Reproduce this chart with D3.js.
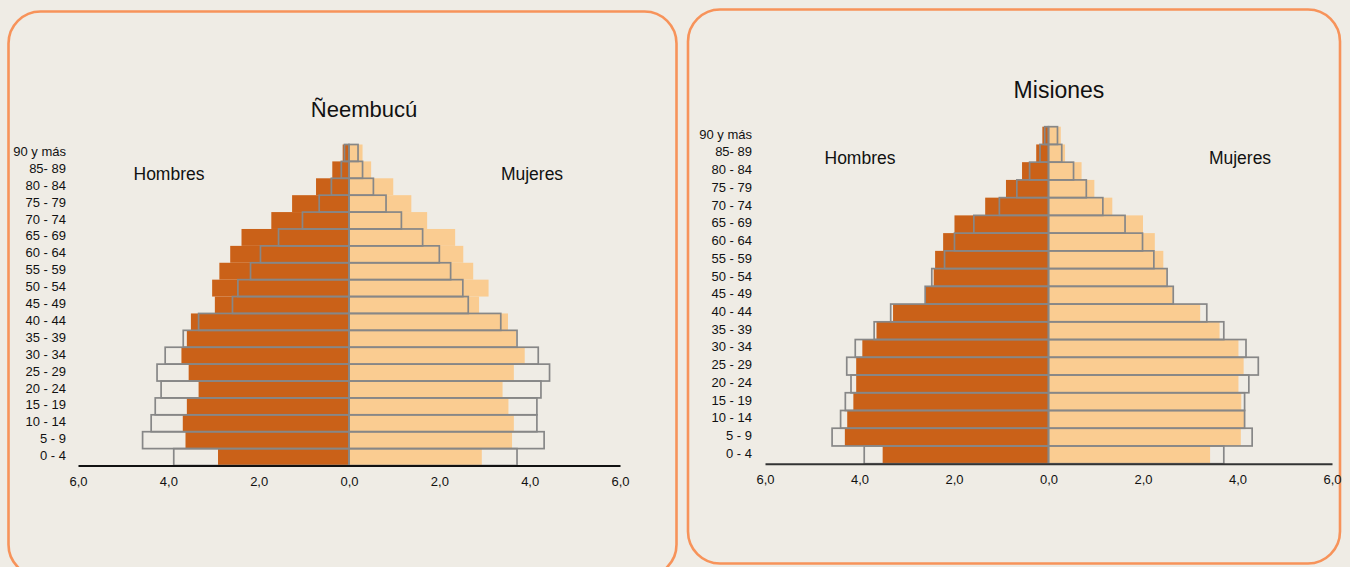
<!DOCTYPE html>
<html>
<head>
<meta charset="utf-8">
<script src="https://cdn.jsdelivr.net/npm/d3@7"></script>
<style>
html,body{margin:0;padding:0;background:#efece5;}
svg{display:block;font-family:"Liberation Sans",Arial,sans-serif;}
</style>
</head>
<body>
<svg id="c" width="1350" height="567"></svg>
<script>
const ages = ["0 - 4","5 - 9","10 - 14","15 - 19","20 - 24","25 - 29","30 - 34","35 - 39","40 - 44","45 - 49","50 - 54","55 - 59","60 - 64","65 - 69","70 - 74","75 - 79","80 - 84","85- 89","90 y más"];
const ticks = [-6,-4,-2,0,2,4,6];

// Ñeembucú
const neeMenFill   = [2.90,3.62,3.68,3.59,3.33,3.55,3.71,3.59,3.50,2.97,3.03,2.87,2.63,2.38,1.72,1.26,0.73,0.37,0.14];
const neeMenLine   = [3.88,4.57,4.38,4.29,4.16,4.25,4.07,3.67,3.33,2.58,2.46,2.18,1.96,1.56,1.03,0.66,0.39,0.17,0.10];
const neeWomFill   = [2.94,3.61,3.65,3.53,3.40,3.65,3.89,3.70,3.52,2.88,3.09,2.75,2.53,2.35,1.73,1.38,0.98,0.49,0.30];
const neeWomLine   = [3.72,4.32,4.16,4.16,4.25,4.44,4.19,3.72,3.36,2.64,2.52,2.25,2.00,1.63,1.16,0.82,0.54,0.30,0.20];

// Misiones
const misMenFill   = [3.51,4.31,4.26,4.13,4.07,4.07,3.94,3.64,3.29,2.60,2.43,2.40,2.23,1.99,1.34,0.90,0.56,0.26,0.13];
const misMenLine   = [3.90,4.58,4.40,4.30,4.18,4.27,4.09,3.69,3.34,2.61,2.47,2.20,1.99,1.58,1.04,0.67,0.40,0.18,0.08];
const misWomFill   = [3.42,4.07,4.14,4.08,4.02,4.13,4.02,3.62,3.21,2.63,2.50,2.43,2.25,2.00,1.35,0.97,0.70,0.35,0.26];
const misWomLine   = [3.71,4.31,4.15,4.15,4.24,4.44,4.18,3.71,3.35,2.64,2.51,2.23,1.99,1.62,1.15,0.80,0.53,0.28,0.19];

const svg = d3.select("#c");
const ORANGE_BORDER = "#f7935a";
const MEN = "#ca6118", WOM = "#facc91", LINE = "#878787";
const fmt = v => Math.abs(v).toFixed(1).replace(".", ",");

function panel(cfg){
  svg.append("rect")
    .attr("x", cfg.px).attr("y", cfg.py).attr("width", cfg.pw).attr("height", cfg.ph)
    .attr("rx", 32).attr("ry", 32)
    .attr("fill", "#efece5").attr("stroke", ORANGE_BORDER).attr("stroke-width", 2.6);

  const g = svg.append("g");
  const x = d3.scaleLinear().domain([-6,6]).range(cfg.xr);
  const y = d3.scaleBand().domain(ages).range(cfg.yr).padding(0);
  const bh = y.bandwidth();

  g.selectAll(".mf").data(ages).join("rect")
    .attr("x", (d,i) => x(-cfg.menFill[i])).attr("y", d => y(d))
    .attr("width", (d,i) => x(0) - x(-cfg.menFill[i])).attr("height", bh)
    .attr("fill", MEN);
  g.selectAll(".wf").data(ages).join("rect")
    .attr("x", x(0)).attr("y", d => y(d))
    .attr("width", (d,i) => x(cfg.womFill[i]) - x(0)).attr("height", bh)
    .attr("fill", WOM);

  g.selectAll(".ml").data(ages).join("rect")
    .attr("x", (d,i) => x(-cfg.menLine[i])).attr("y", d => y(d))
    .attr("width", (d,i) => x(0) - x(-cfg.menLine[i])).attr("height", bh)
    .attr("fill", "none").attr("stroke", LINE).attr("stroke-width", 1.7);
  g.selectAll(".wl").data(ages).join("rect")
    .attr("x", x(0)).attr("y", d => y(d))
    .attr("width", (d,i) => x(cfg.womLine[i]) - x(0)).attr("height", bh)
    .attr("fill", "none").attr("stroke", LINE).attr("stroke-width", 1.7);

  const axis = d3.axisBottom(x).tickValues(ticks).tickFormat(fmt).tickSize(0).tickPadding(11);
  const ag = g.append("g").attr("transform", `translate(0,${cfg.yr[0]})`).call(axis);
  ag.select(".domain").attr("stroke", cfg.axisColor).attr("stroke-width", 2);
  ag.selectAll("text").attr("font-size", 13).attr("fill", "#111")
    .attr("font-family", "'Liberation Sans',Arial,sans-serif");

  g.selectAll(".al").data(ages).join("text")
    .attr("x", cfg.labelX).attr("y", d => y(d) + bh/2 - 1.5)
    .attr("dy", "0.35em").attr("text-anchor", "end")
    .attr("font-size", 13).attr("fill", "#111").text(d => d);

  g.append("text").attr("x", cfg.titleX).attr("y", cfg.titleY)
    .attr("text-anchor", "middle").attr("font-size", cfg.titleSize).attr("fill", "#111").text(cfg.title);
  g.append("text").attr("x", cfg.hX).attr("y", cfg.sexY)
    .attr("text-anchor", "middle").attr("font-size", 17.5).attr("fill", "#111").text("Hombres");
  g.append("text").attr("x", cfg.mX).attr("y", cfg.sexY)
    .attr("text-anchor", "middle").attr("font-size", 17.5).attr("fill", "#111").text("Mujeres");
}

panel({
  px: 8.5, py: 11.5, pw: 668, ph: 565,
  xr: [78, 620], yr: [465.5, 144.5], axisColor: "#111",
  menFill: neeMenFill, menLine: neeMenLine, womFill: neeWomFill, womLine: neeWomLine,
  labelX: 66, title: "Ñeembucú", titleX: 364, titleY: 117, titleSize: 22,
  hX: 169, mX: 532, sexY: 180
});
panel({
  px: 688, py: 9.5, pw: 652, ph: 554,
  xr: [765, 1332], yr: [463.7, 126.7], axisColor: "#333",
  menFill: misMenFill, menLine: misMenLine, womFill: misWomFill, womLine: misWomLine,
  labelX: 752, title: "Misiones", titleX: 1059, titleY: 98, titleSize: 23,
  hX: 860, mX: 1240, sexY: 164
});
</script>
</body>
</html>
